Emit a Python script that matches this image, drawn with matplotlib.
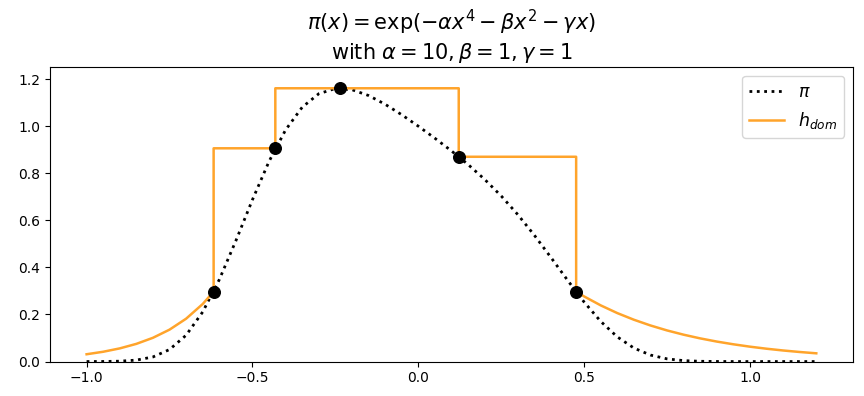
import matplotlib
matplotlib.use("Agg")
import matplotlib.pyplot as plt

# target density pi(x) sampled on a 0.05 grid
x_pi = [-1.00, -0.95, -0.90, -0.85, -0.80, -0.75, -0.70, -0.65, -0.60, -0.55,
        -0.50, -0.45, -0.40, -0.35, -0.30, -0.25, -0.20, -0.15, -0.10, -0.05,
        0.00, 0.05, 0.10, 0.15, 0.20, 0.25, 0.30, 0.35, 0.40, 0.45,
        0.50, 0.55, 0.60, 0.65, 0.70, 0.75, 0.80, 0.85, 0.90, 0.95,
        1.00, 1.05, 1.10, 1.15, 1.20]
y_pi = [0.00005, 0.0003, 0.0015, 0.0061, 0.0195, 0.0510, 0.1118, 0.2106, 0.3478, 0.5130,
        0.6873, 0.8500, 0.9841, 1.0805, 1.1377, 1.1600, 1.1549, 1.1302, 1.0931, 1.0486,
        1.0000, 0.9488, 0.8949, 0.8373, 0.7741, 0.7036, 0.6244, 0.5366, 0.4422, 0.3456,
        0.2528, 0.1707, 0.1048, 0.0574, 0.0276, 0.0114, 0.0039, 0.0011, 0.0003, 0.00005,
        0.0, 0.0, 0.0, 0.0, 0.0]

# dominating envelope: left tail, steps, right tail
x_left = [-1.00, -0.95, -0.90, -0.85, -0.80, -0.75, -0.70, -0.65, -0.617]
y_left = [0.031, 0.0416, 0.0559, 0.0751, 0.1009, 0.1355, 0.1820, 0.2444, 0.297]
x_steps = [-0.617, -0.617, -0.431, -0.431, 0.122, 0.122, 0.476, 0.476]
y_steps = [0.297, 0.906, 0.906, 1.161, 1.161, 0.870, 0.870, 0.297]
x_right = [0.476, 0.50, 0.55, 0.60, 0.65, 0.70, 0.75, 0.80, 0.85, 0.90,
           0.95, 1.00, 1.05, 1.10, 1.15, 1.20]
y_right = [0.297, 0.2767, 0.2387, 0.2059, 0.1777, 0.1533, 0.1322, 0.1141, 0.0984, 0.0849,
           0.0733, 0.0632, 0.0545, 0.0470, 0.0406, 0.035]

# knot points
x_knots = [-0.617, -0.431, -0.236, 0.122, 0.476]
y_knots = [0.297, 0.906, 1.161, 0.870, 0.297]

x_h = x_left + x_steps[1:] + x_right[1:]
y_h = y_left + y_steps[1:] + y_right[1:]

fig, ax = plt.subplots(figsize=(8.64, 3.96), dpi=100)
ax.plot(x_pi, y_pi, ":", color="black", lw=2, label=r"$\pi$")
ax.plot(x_h, y_h, "-", color="#ffa42b", lw=1.8, label=r"$h_{dom}$")
ax.scatter(x_knots, y_knots, s=70, color="black", zorder=3)

ax.set_ylim(0, 1.25)
ax.set_xticks([-1.0, -0.5, 0.0, 0.5, 1.0])
ax.set_title(r"$\pi(x) = \exp(-\alpha x^4 - \beta x^2 - \gamma x)$" "\n"
             r"with $\alpha = 10, \beta = 1, \gamma = 1$", fontsize=15)
ax.legend(loc="upper right", fontsize=12.5)

fig.subplots_adjust(left=0.058, right=0.987, top=0.83, bottom=0.087)
fig.savefig("out.png", dpi=100)
